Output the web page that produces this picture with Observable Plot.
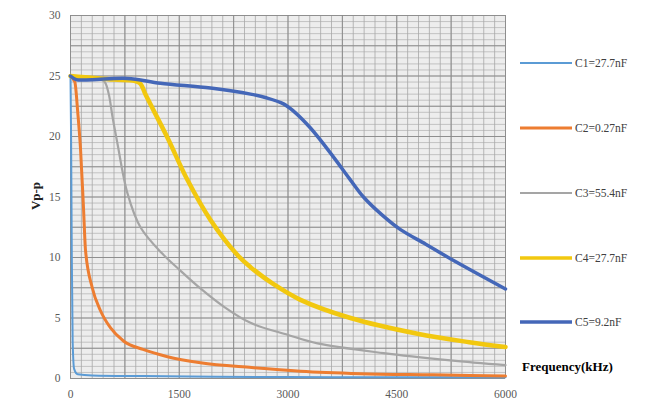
<!DOCTYPE html>
<html><head><meta charset="utf-8">
<script src="https://cdn.jsdelivr.net/npm/d3@7"></script>
<script src="https://cdn.jsdelivr.net/npm/@observablehq/plot@0.6"></script>
<style>
body{margin:0;background:#fff;}
#wrap{position:relative;width:669px;height:408px;font-family:"Liberation Serif","Times New Roman",serif;}
#legend{position:absolute;left:520px;top:0;}
.item{position:absolute;left:0;display:flex;align-items:center;white-space:nowrap;font-size:11.5px;color:#404040;}
.sw{width:52px;margin-right:3px;}
#xt{position:absolute;left:522px;top:359px;font-weight:bold;font-size:13px;color:#000;}
#yt{position:absolute;left:22px;top:188px;font-weight:bold;font-size:13px;color:#222;transform:rotate(-90deg);transform-origin:center;}
</style></head>
<body><div id="wrap"></div>
<script>
const seriesNames = ["C1=27.7nF","C2=0.27nF","C3=55.4nF","C4=27.7nF","C5=9.2nF"];
const seriesColors = ["#5B9BD5","#ED7D31","#A5A5A5","#F2C80F","#4467B8"];
const seriesWidths = [2,3,2.2,4.5,3.5];
const seriesCurves = ["monotone-x","monotone-x","catmull-rom","catmull-rom","catmull-rom"];

const c1x = [0,8,18,30,50,100,300,1000,2000,3000,4000,5000,6000];
const c1y = [25,20,10,3,0.8,0.35,0.25,0.2,0.15,0.12,0.1,0.1,0.1];
const c2x = [0,60,100,138,180,207,300,414,550,731,1000,1338,1793,2500,3172,4000,5000,6000];
const c2y = [25,24.5,22,19,14,10.6,7.5,5.6,4.2,3.1,2.4,1.8,1.3,0.9,0.6,0.4,0.3,0.2];
const c3x = [0,300,460,524,580,648,786,965,1269,1500,1800,2100,2483,3000,3407,4317,5241,6000];
const c3y = [25,24.8,24.6,23.6,21.6,19.4,15.3,12.5,10.3,9,7.4,6.0,4.6,3.6,2.9,2.1,1.5,1.1];
const c4x = [0,600,880,960,1040,1338,1614,1931,2303,2483,2800,3172,3862,4786,5500,6000];
const c4y = [25,24.7,24.6,24.4,23.4,19.9,16.4,13.1,10.2,9.2,7.8,6.5,5.0,3.7,3.0,2.6];
const c5x = [0,80,300,786,1241,1931,2483,2700,2938,3076,3310,3628,3850,4041,4300,4552,4900,5241,6000];
const c5y = [25,24.7,24.7,24.8,24.4,24.0,23.5,23.2,22.7,22.1,20.7,18.3,16.5,15.0,13.5,12.3,11.1,9.9,7.4];

const xTicks = [0,1500,3000,4500,6000];
const yTicks = [0,5,10,15,20,25,30];

const xs = [c1x,c2x,c3x,c4x,c5x], ys = [c1y,c2y,c3y,c4y,c5y];
const rows = [];
xs.forEach((xa,i)=>xa.forEach((x,j)=>rows.push({s:i,x,y:ys[i][j]})));

const lineMarks = seriesNames.map((n,i)=>Plot.line(rows.filter(d=>d.s===i),{x:"x",y:"y",stroke:seriesColors[i],strokeWidth:seriesWidths[i],curve:seriesCurves[i]}));

const chart = Plot.plot({
  width:669, height:408,
  marginLeft:70, marginRight:164, marginTop:15, marginBottom:30,
  style:{fontFamily:"'Liberation Serif','Times New Roman',serif",fontSize:"11.5px",color:"#595959",background:"transparent"},
  x:{domain:[0,6000]},
  y:{domain:[0,30]},
  marks:[
    Plot.frame({fill:"#EDEDED",stroke:null}),
    Plot.gridY({ticks:d3.range(0,30.01,0.5),stroke:"#B8B8B8",strokeOpacity:0.8,strokeWidth:1}),
    Plot.gridX({ticks:d3.range(0,6001,150),stroke:"#A8A8A8",strokeOpacity:0.8,strokeWidth:1}),
    Plot.gridY({ticks:d3.range(0,30.01,2.5),stroke:"#8A8A8A",strokeOpacity:0.9}),
    Plot.gridX({ticks:d3.range(0,6001,750),stroke:"#8A8A8A",strokeOpacity:0.9}),
    Plot.axisX({ticks:xTicks,tickSize:0,tickPadding:11,label:null,tickFormat:d=>String(d)}),
    Plot.axisY({ticks:yTicks,tickSize:0,tickPadding:10,label:null}),
    ...lineMarks
  ]
});
const wrap = document.getElementById("wrap");
wrap.appendChild(chart);

const leg = document.createElement("div"); leg.id="legend";
const tops=[63,128,193,258,322];
seriesNames.forEach((n,i)=>{
  const it=document.createElement("div"); it.className="item"; it.style.top=(tops[i]-8)+"px";
  it.innerHTML=`<svg class="sw" width="52" height="16"><line x1="0" x2="52" y1="8" y2="8" stroke="${seriesColors[i]}" stroke-width="${Math.min(seriesWidths[i],3.5)}"/></svg><span>${n}</span>`;
  leg.appendChild(it);
});
wrap.appendChild(leg);
const xt=document.createElement("div"); xt.id="xt"; xt.textContent="Frequency(kHz)"; wrap.appendChild(xt);
const yt=document.createElement("div"); yt.id="yt"; yt.textContent="Vp-p"; wrap.appendChild(yt);
</script></body></html>
